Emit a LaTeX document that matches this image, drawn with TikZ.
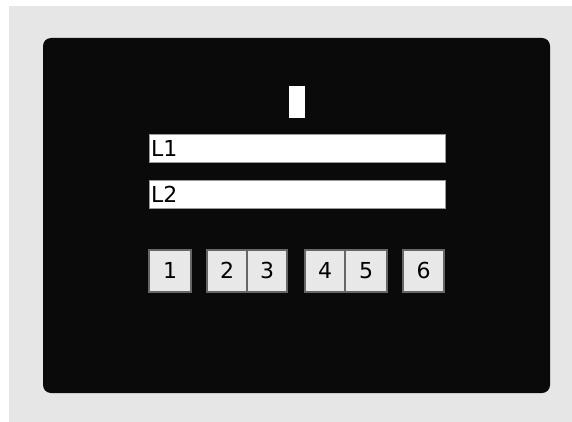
\documentclass[tikz,border=0pt]{standalone}
\usepackage{fontspec}
\setmainfont{DejaVu Sans}
\usepackage{tikz}
\usetikzlibrary{positioning}
\usepackage{xcolor}
\definecolor{FrameGray}{HTML}{E6E6E6}
\definecolor{PanelBlack}{HTML}{0A0A0A}
\definecolor{KeyFill}{HTML}{E8E8E8}
\definecolor{KeyEdge}{HTML}{666666}
\definecolor{BarEdge}{HTML}{9A9A9A}
\tikzset{
    % Node styles
    panelbox/.style={
        rectangle,
        rounded corners=8pt,
        fill=PanelBlack,
        draw=none
    },
    linebox/.style={
        rectangle,
        draw=BarEdge,
        fill=white,
        line width=0.8pt,
        minimum width=296pt,
        minimum height=28pt,
        inner xsep=2pt,
        inner ysep=0pt,
        text width=292pt,
        align=left,
        font=\fontsize{22}{22}\selectfont
    },
    keybox/.style={
        rectangle,
        draw=KeyEdge,
        fill=KeyFill,
        line width=2pt,
        minimum width=40pt,
        minimum height=42pt,
        inner sep=0pt,
        text centered,
        font=\fontsize{22}{22}\selectfont
    },
    markbox/.style={
        rectangle,
        fill=white,
        draw=none,
        minimum width=16pt,
        minimum height=32pt,
        inner sep=0pt
    }
}
\begin{document}
\begin{tikzpicture}[x=1pt,y=-1pt]
    \useasboundingbox (0,0) rectangle (572,422);
    % Background and panel
    \fill[FrameGray] (9,6) rectangle (572,422);
    \node[panelbox,minimum width=507pt,minimum height=355pt] (panel) at (296.5,215.5) {};

    % Indicator
    \node[markbox] (mark) at (297,102) {};

    % Text lines
    \node[linebox] (line1) at (297,148) {L1};
    \node[linebox] (line2) at (297,194) {L2};

    % Keys
    \node[keybox,minimum width=42pt] (key1) at (170,270.5) {1};
    \node[keybox] (key2) at (227,270.5) {2};
    \node[keybox] (key3) at (267,270.5) {3};
    \node[keybox] (key4) at (325,270.5) {4};
    \node[keybox,minimum width=42pt] (key5) at (366,270.5) {5};
    \node[keybox,minimum width=41pt] (key6) at (423.5,270.5) {6};
\end{tikzpicture}
\end{document}
